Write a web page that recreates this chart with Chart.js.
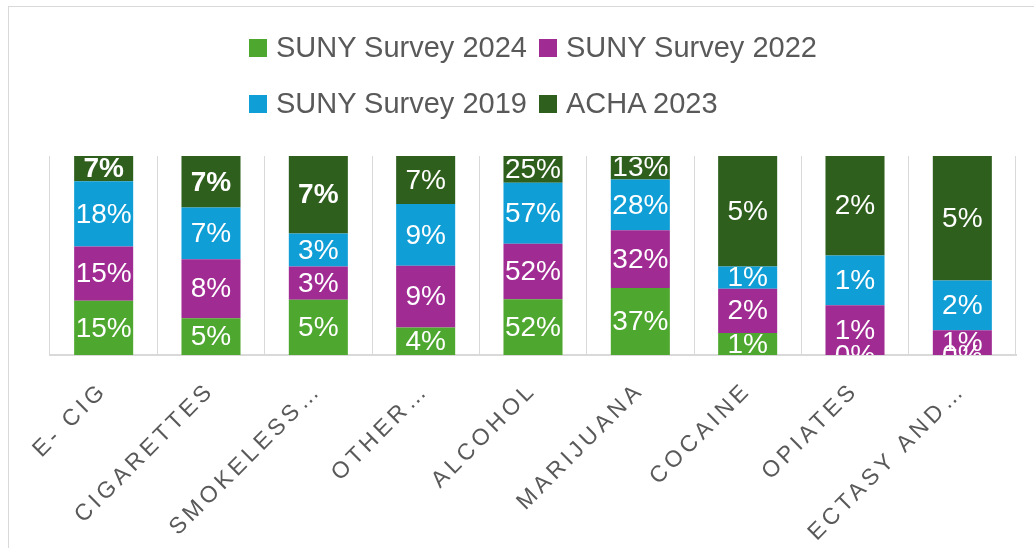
<!DOCTYPE html>
<html>
<head>
<meta charset="utf-8">
<script src="https://cdn.jsdelivr.net/npm/chart.js@4.4.1/dist/chart.umd.min.js"></script>
<style>
    html, body { margin: 0; padding: 0; background: #fff; }
    body { width: 1034px; height: 548px; position: relative; overflow: hidden; font-family: "Liberation Sans", Arial, sans-serif; }
    #frame { position: absolute; left: 8px; top: 6px; width: 1040px; height: 560px; border: 1px solid #d9d9d9; box-sizing: border-box; }
    #wrap { position: absolute; left: 0; top: 0; width: 1034px; height: 548px; }
    #legend { position: absolute; left: 249px; top: 30px; display: grid; grid-template-columns: 290px auto; row-gap: 21px; }
    .item { display: flex; align-items: center; height: 35px; font-size: 29px; color: #595959; white-space: nowrap; }
    .box { width: 18px; height: 18px; margin-right: 9px; flex: none; }
</style>
</head>
<body>
<div id="frame"></div>
<div id="wrap"><canvas id="chart" width="1034" height="548"></canvas></div>
<div id="legend"></div>
<script>
const categories = ['E- CIG', 'CIGARETTES', 'SMOKELESS…', 'OTHER…', 'ALCOHOL', 'MARIJUANA', 'COCAINE', 'OPIATES', 'ECTASY AND…'];
const suny2024 = [15, 5, 5, 4, 52, 37, 1, 0, 0];
const suny2022 = [15, 8, 3, 9, 52, 32, 2, 1, 1];
const suny2019 = [18, 7, 3, 9, 57, 28, 1, 1, 2];
const acha2023 = [7, 7, 7, 7, 25, 13, 5, 2, 5];

const series = [
    { label: 'SUNY Survey 2024', values: suny2024, color: '#4ea72e' },
    { label: 'SUNY Survey 2022', values: suny2022, color: '#a02b93' },
    { label: 'SUNY Survey 2019', values: suny2019, color: '#0f9ed5' },
    { label: 'ACHA 2023', values: acha2023, color: '#2e5f1d' }
];

// 100% stacked: share of each series in the category total
const totals = categories.map((c, i) => series.reduce((s, d) => s + d.values[i], 0));

// bold labels on the ACHA bars of the first three categories
const boldLabels = { 3: [0, 1, 2] };

const labelPlugin = {
    id: 'segmentLabels',
    afterDatasetsDraw(chart) {
        const ctx = chart.ctx;
        const area = chart.chartArea;
        ctx.save();
        ctx.beginPath();
        ctx.rect(area.left, area.top, area.right - area.left, area.bottom - area.top);
        ctx.clip();
        ctx.fillStyle = '#ffffff';
        ctx.textAlign = 'center';
        ctx.textBaseline = 'middle';
        chart.data.datasets.forEach((ds, di) => {
            const meta = chart.getDatasetMeta(di);
            meta.data.forEach((bar, i) => {
                const bold = (boldLabels[di] || []).includes(i);
                ctx.font = (bold ? 'bold ' : '') + '28px "Liberation Sans", Arial, sans-serif';
                const y = (bar.y + bar.base) / 2;
                ctx.fillText(series[di].values[i] + '%', bar.x, y + 1);
            });
        });
        ctx.restore();
    }
};

const spacingPlugin = {
    id: 'tickSpacing',
    beforeDraw(chart) { chart.ctx.letterSpacing = '4px'; },
    beforeDatasetsDraw(chart) { chart.ctx.letterSpacing = '0px'; }
};

const chart = new Chart(document.getElementById('chart').getContext('2d'), {
    type: 'bar',
    data: {
        labels: categories,
        datasets: series.map(s => ({
            label: s.label,
            data: s.values.map((v, i) => v / totals[i] * 100),
            backgroundColor: s.color,
            borderWidth: 0,
            barPercentage: 0.55,
            categoryPercentage: 1
        }))
    },
    options: {
        responsive: false,
        animation: false,
        layout: { padding: { left: 50, right: 18, top: 156, bottom: 0 } },
        plugins: {
            legend: { display: false },
            tooltip: { enabled: false }
        },
        scales: {
            x: {
                stacked: true,
                grid: { display: true, color: '#d9d9d9', lineWidth: 1, offset: true, drawTicks: false },
                border: { display: true, color: '#d9d9d9', width: 2 },
                ticks: {
                    color: '#595959',
                    font: { family: '"Liberation Sans", Arial, sans-serif', size: 23 },
                    minRotation: 45,
                    maxRotation: 45,
                    autoSkip: false,
                    padding: 22
                },
                afterFit(scale) { scale.height = 193; }
            },
            y: {
                stacked: true,
                display: false,
                min: 0,
                max: 100
            }
        }
    },
    plugins: [labelPlugin, spacingPlugin]
});

// legend in two aligned columns
const legend = document.getElementById('legend');
series.forEach(s => {
    const item = document.createElement('div');
    item.className = 'item';
    const box = document.createElement('span');
    box.className = 'box';
    box.style.background = s.color;
    item.appendChild(box);
    item.appendChild(document.createTextNode(s.label));
    legend.appendChild(item);
});
</script>
</body>
</html>
